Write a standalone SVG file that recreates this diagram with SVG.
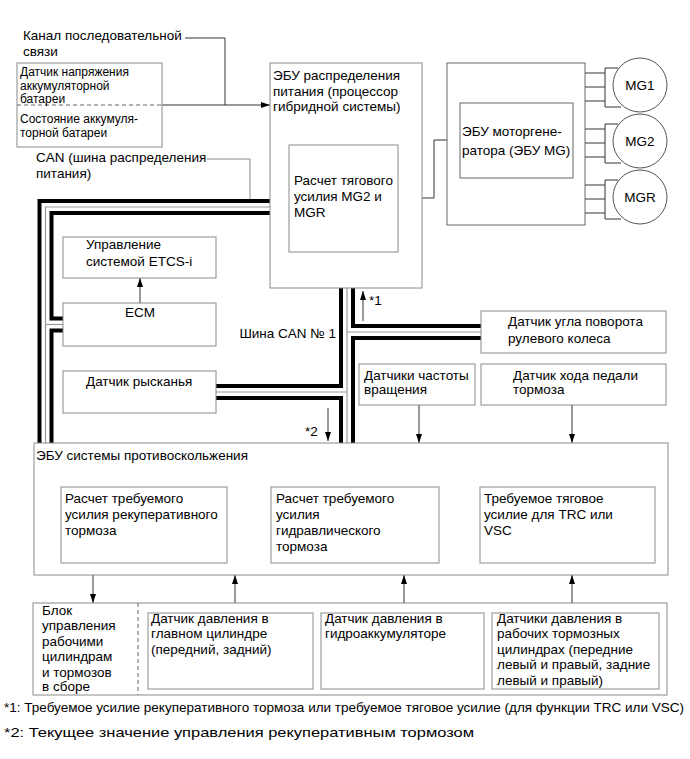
<svg xmlns="http://www.w3.org/2000/svg" width="690" height="759" viewBox="0 0 690 759">
<defs>
<marker id="ah" viewBox="0 0 9 6" refX="9" refY="3" markerWidth="9" markerHeight="6" markerUnits="userSpaceOnUse" orient="auto">
<path d="M0,0 L9,3 L0,6 z" fill="#000"/>
</marker>
<style>
text{font-family:"Liberation Sans",Arial,sans-serif;font-size:13.5px;fill:#000}
.s{font-size:12px}
.b{font-size:13.5px}
.box{fill:#fff;stroke:#8a8a8a;stroke-width:1}
.dbox{fill:#fff;stroke:#666;stroke-width:1}
.ln{fill:none;stroke:#333;stroke-width:1}
.gl{fill:none;stroke:#888;stroke-width:1}
.arr{fill:none;stroke:#333;stroke-width:1;marker-end:url(#ah)}
.busb{fill:none;stroke:#000;stroke-width:16;stroke-linejoin:miter}
.busw{fill:none;stroke:#fff;stroke-width:8;stroke-linejoin:miter}
.busg{fill:none;stroke:#999;stroke-width:1.2;stroke-linejoin:miter}
</style>
</defs>
<rect width="690" height="759" fill="#fff"/>

<g id="connectors">
<g id="bus-black">
<path class="busb" d="M270,207 H45.5 V443"/>
<path class="busb" d="M45.5,324.5 H63"/>
<path class="busb" d="M347,288 V443"/>
<path class="busb" d="M216,392 H347"/>
<path class="busb" d="M347,332 H481"/>
</g>
<g id="bus-white">
<path class="busw" d="M270,207 H45.5 V443"/>
<path class="busw" d="M45.5,324.5 H63"/>
<path class="busw" d="M347,288 V443"/>
<path class="busw" d="M216,392 H347"/>
<path class="busw" d="M347,332 H481"/>
</g>
<g id="bus-gray">
<path class="busg" d="M270,207 H45.5 V443"/>
<path class="busg" d="M45.5,324.5 H63"/>
<path class="busg" d="M347,288 V443"/>
<path class="busg" d="M216,392 H347"/>
<path class="busg" d="M347,332 H481"/>
</g>
<path class="ln" d="M185,38 H225 V105"/>
<path class="arr" d="M162,105 H270"/>
<path class="gl" d="M207,159 H250 V199"/>
<path class="arr" d="M398,198 H434 V140 H460"/>
<path class="arr" d="M140,303 V278"/>
<path class="arr" d="M363,321 V291"/>
<path class="arr" d="M328,408 V441"/>
<path class="arr" d="M419,405 V443"/>
<path class="arr" d="M572,405 V443"/>
<path class="arr" d="M93,575 V603"/>
<path class="arr" d="M235,613 V575"/>
<path class="arr" d="M404,613 V575"/>
<path class="arr" d="M572,613 V575"/>
<g id="mg-links" class="ln">
<path d="M585,73 H605 M585,87 H605 M585,101 H605 M618,68 H605 V107 H621"/>
<path d="M585,129 H605 M585,143 H605 M585,157 H605 M618,124 H605 V163 H621"/>
<path d="M585,185 H605 M585,199 H605 M585,213 H605 M618,180 H605 V219 H621"/>
</g>
</g>

<g id="serial-label">
<text x="23" y="39.5">Канал последовательной</text>
<text x="23" y="55.5">связи</text>
</g>

<g id="battery">
<rect class="box" x="17" y="63" width="145" height="84"/>
<line x1="17" y1="105" x2="162" y2="105" stroke="#666" stroke-width="1" stroke-dasharray="4,3"/>
<text class="s" x="20" y="76">Датчик напряжения</text>
<text class="s" x="20" y="89.5">аккумуляторной</text>
<text class="s" x="20" y="102.5">батареи</text>
<text class="s" x="20" y="122.5">Состояние аккумуля-</text>
<text class="s" x="20" y="136.5">торной батареи</text>
</g>

<g id="can-power-label">
<text x="36" y="161.5">CAN (шина распределения</text>
<text x="36" y="177.5">питания)</text>
</g>

<g id="power-ecu">
<rect class="box" x="270" y="63" width="152" height="225"/>
<text x="273" y="79.5">ЭБУ распределения</text>
<text x="273" y="96">питания (процессор</text>
<text x="273" y="111">гибридной системы)</text>
</g>
<g id="traction-calc">
<rect class="box" x="289" y="145" width="109" height="107"/>
<text x="294" y="184.5">Расчет тягового</text>
<text x="294" y="201">усилия MG2 и</text>
<text x="294" y="217">MGR</text>
</g>

<g id="mg-ecu">
<rect class="dbox" x="447" y="63" width="138" height="162"/>
<rect class="dbox" x="460" y="103" width="113" height="75"/>
<text x="462" y="136">ЭБУ моторгене-</text>
<text x="462" y="154.5">ратора (ЭБУ MG)</text>
</g>

<g id="mg1">
<circle cx="640" cy="85" r="27" fill="#fff" stroke="#555"/>
<text x="640" y="89.5" text-anchor="middle">MG1</text>
</g>
<g id="mg2">
<circle cx="640" cy="141" r="27" fill="#fff" stroke="#555"/>
<text x="640" y="145.5" text-anchor="middle">MG2</text>
</g>
<g id="mgr">
<circle cx="640" cy="197" r="27" fill="#fff" stroke="#555"/>
<text x="640" y="201.5" text-anchor="middle">MGR</text>
</g>

<g id="etcs">
<rect class="box" x="63" y="237" width="153" height="41"/>
<text x="86" y="248.5">Управление</text>
<text x="86" y="266">системой ETCS-i</text>
</g>
<g id="ecm">
<rect class="box" x="63" y="303" width="153" height="43"/>
<text x="140" y="317" text-anchor="middle">ECM</text>
</g>
<g id="yaw">
<rect class="box" x="63" y="371" width="153" height="42"/>
<text x="86" y="385.5">Датчик рысканья</text>
</g>

<g id="can1-label">
<text x="336" y="338" text-anchor="end">Шина CAN № 1</text>
<text x="369" y="304.5">*1</text>
<text x="305" y="435.5">*2</text>
</g>

<g id="steering">
<rect class="box" x="481" y="311" width="185" height="42"/>
<text x="508" y="326">Датчик угла поворота</text>
<text x="508" y="342.5">рулевого колеса</text>
</g>
<g id="speed">
<rect class="box" x="359" y="364" width="116" height="41"/>
<text x="364" y="379.5">Датчики частоты</text>
<text x="364" y="393.5">вращения</text>
</g>
<g id="pedal">
<rect class="box" x="481" y="364" width="185" height="41"/>
<text x="513" y="379.5">Датчик хода педали</text>
<text x="513" y="393.5">тормоза</text>
</g>

<g id="skid-ecu">
<rect class="box" x="34" y="443" width="634" height="132"/>
<text class="b" x="36" y="460">ЭБУ системы противоскольжения</text>
</g>
<g id="regen-calc">
<rect class="box" x="61" y="487" width="166" height="76"/>
<text class="b" x="65" y="502.5">Расчет требуемого</text>
<text class="b" x="65" y="518.5">усилия рекуперативного</text>
<text class="b" x="65" y="534.5">тормоза</text>
</g>
<g id="hydr-calc">
<rect class="box" x="271" y="487" width="168" height="76"/>
<text class="b" x="276" y="502.5">Расчет требуемого</text>
<text class="b" x="276" y="518.5">усилия</text>
<text class="b" x="276" y="534.5">гидравлического</text>
<text class="b" x="276" y="550.5">тормоза</text>
</g>
<g id="trc-vsc">
<rect class="box" x="480" y="487" width="175" height="76"/>
<text class="b" x="484" y="502.5">Требуемое тяговое</text>
<text class="b" x="484" y="518.5">усилие для TRC или</text>
<text class="b" x="484" y="534.5">VSC</text>
</g>

<g id="brake-block">
<rect class="box" x="33" y="603" width="634" height="92"/>
<line x1="138" y1="603" x2="138" y2="695" stroke="#666" stroke-width="1" stroke-dasharray="4,3"/>
<text class="b" x="42" y="614.5">Блок</text>
<text class="b" x="42" y="630">управления</text>
<text class="b" x="42" y="645.5">рабочими</text>
<text class="b" x="42" y="661">цилиндрам</text>
<text class="b" x="42" y="676.5">и тормозов</text>
<text class="b" x="42" y="691">в сборе</text>
</g>
<g id="mc-pressure">
<rect class="box" x="148" y="613" width="165" height="76"/>
<text class="b" x="151" y="622.5">Датчик давления в</text>
<text class="b" x="151" y="638">главном цилиндре</text>
<text class="b" x="151" y="653.5">(передний, задний)</text>
</g>
<g id="acc-pressure">
<rect class="box" x="321" y="613" width="163" height="76"/>
<text class="b" x="325" y="622.5">Датчик давления в</text>
<text class="b" x="325" y="638">гидроаккумуляторе</text>
</g>
<g id="wc-pressure">
<rect class="box" x="492" y="613" width="167" height="76"/>
<text class="b" x="497" y="622.5">Датчики давления в</text>
<text class="b" x="497" y="638">рабочих тормозных</text>
<text class="b" x="497" y="653.5">цилиндрах (передние</text>
<text class="b" x="497" y="669">левый и правый, задние</text>
<text class="b" x="497" y="684.5">левый и правый)</text>
</g>

<g id="footnotes">
<text x="4" y="712" textLength="680" lengthAdjust="spacingAndGlyphs">*1: Требуемое усилие рекуперативного тормоза или требуемое тяговое усилие (для функции TRC или VSC)</text>
<text x="4" y="737" textLength="470" lengthAdjust="spacingAndGlyphs">*2: Текущее значение управления рекуперативным тормозом</text>
</g>
</svg>
